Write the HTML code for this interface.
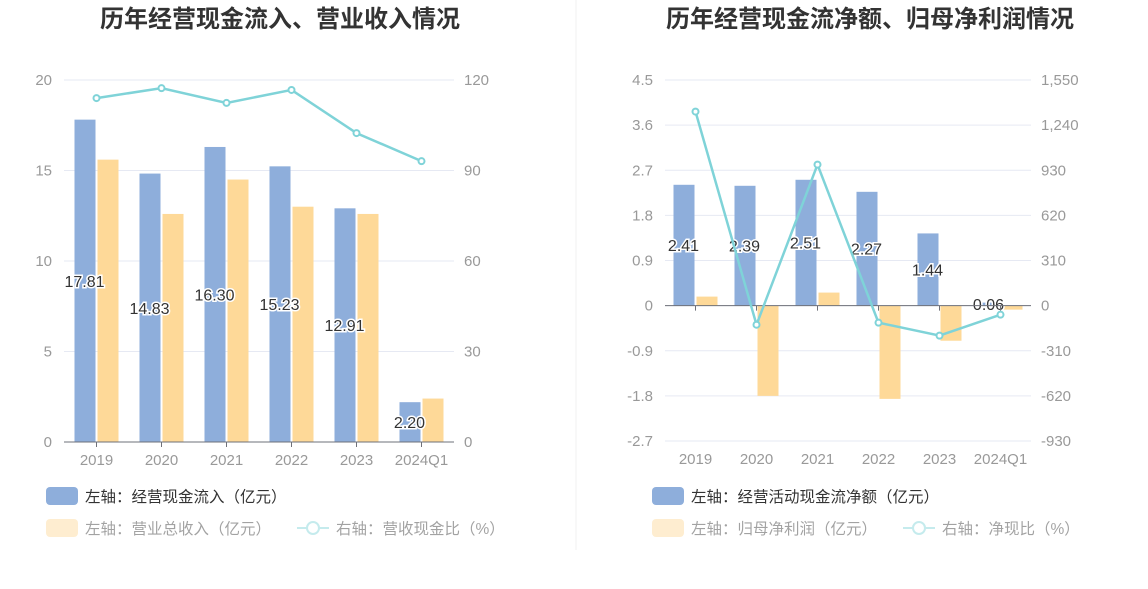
<!DOCTYPE html>
<html><head><meta charset="utf-8"><style>
body{margin:0;background:#fff;width:1148px;height:589px;overflow:hidden;font-family:"Liberation Sans","Noto Sans CJK SC",sans-serif}
svg{position:absolute;left:0;top:0}
</style></head><body>
<svg id="c" width="1148" height="589" xmlns="http://www.w3.org/2000/svg"></svg>
<script>
const cats=["2019","2020","2021","2022","2023","2024Q1"];
const inflow=[17.81,14.83,16.30,15.23,12.91,2.20];
const revenue=[15.6,12.6,14.5,13.0,12.6,2.4];
const ratio=[114,117.3,112.4,116.7,102.4,93.1];
const leftTicks1=[0,5,10,15,20];
const rightTicks1=[0,30,60,90,120];
const netCash=[2.41,2.39,2.51,2.27,1.44,0.06];
const netProfit=[0.18,-1.8,0.26,-1.86,-0.70,-0.08];
const netRatio=[1333,-131,969,-117,-206,-62];
const leftTicks2=[-2.7,-1.8,-0.9,0,0.9,1.8,2.7,3.6,4.5];
const rightTicks2=["-930","-620","-310","0","310","620","930","1,240","1,550"];
const NS="http://www.w3.org/2000/svg";
const svg=document.getElementById('c');
function mk(t,a,p){const e=document.createElementNS(NS,t);for(const k in a)e.setAttribute(k,a[k]);(p||svg).appendChild(e);return e;}
function txt(s,a,name){const e=mk('text',a);e.textContent=s;return e;}
let t;
t=txt("历年经营现金流入、营业收入情况",{x:280,y:27,'text-anchor':'middle','font-size':24,'font-weight':'bold',fill:'#333'},'left-chart-title');
t=txt("历年经营现金流净额、归母净利润情况",{x:870,y:27,'text-anchor':'middle','font-size':24,'font-weight':'bold',fill:'#333'},'right-chart-title');
let d=mk('line',{x1:576,y1:0,x2:576,y2:550,stroke:'#f0f0f0'});


function chart(o){
  const g=mk('g',{});
  
  const y=v=>o.y0+(v-o.lmin)/(o.lmax-o.lmin)*(o.y1-o.y0);
  const yr=v=>o.y0+(v-o.rmin)/(o.rmax-o.rmin)*(o.y1-o.y0);
  const bw=(o.x1-o.x0)/cats.length;
  const xc=i=>o.x0+bw*(i+0.5);
  o.lt.forEach((v,i)=>{
    const gy=y(v);
    const l=mk('line',{x1:o.x0,x2:o.x1,y1:gy,y2:gy,stroke:'#e6e9f3'},g);
    
    const a=mk('text',{x:o.x0-12,y:gy+5,'text-anchor':'end','font-size':15,fill:'#999'},g);a.textContent=String(v);
    
    const b=mk('text',{x:o.x1+10,y:gy+5,'font-size':15,fill:'#999'},g);b.textContent=String(o.rt[i]);
    
  });
  const z=y(0);
  cats.forEach((c,i)=>{
    const x=xc(i);
    const v1=o.s1[i],v2=o.s2[i];
    const r1=mk('rect',{x:x-22,y:Math.min(y(v1),z),width:21,height:Math.abs(y(v1)-z),fill:'#8eaedb'},g);
    
    const r2=mk('rect',{x:x+1,y:Math.min(y(v2),z),width:21,height:Math.abs(y(v2)-z),fill:'#fed998'},g);
    
    const lab=mk('text',{x:x-12,y:(y(v1)+z)/2+6,'text-anchor':'middle','font-size':16,fill:'#333',stroke:'#fff','stroke-width':3,'paint-order':'stroke'},g);
    lab.textContent=v1.toFixed(2);
    
    const xl=mk('text',{x:x,y:o.y0+23,'text-anchor':'middle','font-size':15,fill:'#999'},g);xl.textContent=c;
    
    const tk=mk('line',{x1:x,x2:x,y1:z,y2:z+5,stroke:'#6e7079'},g);
    
  });
  const ax=mk('line',{x1:o.x0,x2:o.x1,y1:z,y2:z,stroke:'#6e7079'},g);
  
  const pts=o.s3.map((v,i)=>xc(i)+','+yr(v)).join(' ');
  const pl=mk('polyline',{points:pts,fill:'none',stroke:'#7fd3d8','stroke-width':2.5},g);
  
  o.s3.forEach((v,i)=>{
    const p=mk('circle',{cx:xc(i),cy:yr(v),r:3,fill:'#fff',stroke:'#7fd3d8','stroke-width':2},g);
    
  });
  const lx=o.lx;
  const L=(x,yy,fill,s,name,op)=>{
    const lg=mk('g',{opacity:op},g);
    if(fill){mk('rect',{x:x,y:yy-9,width:32,height:18,rx:4,fill:fill},lg);}
    else{mk('line',{x1:x,x2:x+32,y1:yy,y2:yy,stroke:'#7fd3d8','stroke-width':2},lg);mk('circle',{cx:x+16,cy:yy,r:6,fill:'#fff',stroke:'#7fd3d8','stroke-width':2},lg);}
    const tt=mk('text',{x:x+39,y:yy+6,'font-size':15.5,fill:'#333'},lg);tt.textContent=s;
  };
  L(lx,496,'#8eaedb',o.l1,'legend-primary',1);
  L(lx,528,'#fed998',o.l2,'legend-secondary',0.45);
  L(lx+o.l3x,528,null,o.l3,'legend-ratio',0.45);
}
chart({name:'left-chart',x0:64,x1:454,y0:442,y1:80,lmin:0,lmax:20,rmin:0,rmax:120,lt:leftTicks1,rt:rightTicks1,s1:inflow,s2:revenue,s3:ratio,lx:46,l1:"左轴：经营现金流入（亿元）",l2:"左轴：营业总收入（亿元）",l3:"右轴：营收现金比（%）",l3x:251});
chart({name:'right-chart',x0:665,x1:1031,y0:441,y1:80,lmin:-2.7,lmax:4.5,rmin:-930,rmax:1550,lt:leftTicks2,rt:rightTicks2,s1:netCash,s2:netProfit,s3:netRatio,lx:652,l1:"左轴：经营活动现金流净额（亿元）",l2:"左轴：归母净利润（亿元）",l3:"右轴：净现比（%）",l3x:251});
</script>
</body></html>
